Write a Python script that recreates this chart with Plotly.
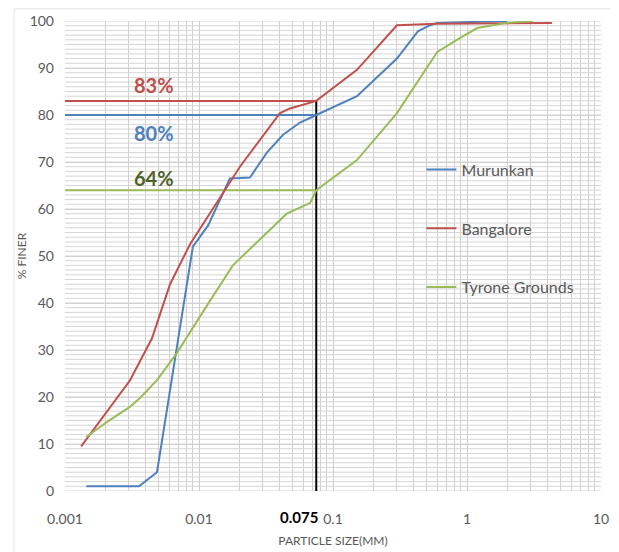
import numpy as np
import plotly.graph_objects as go

# ---------------- data ----------------
murunkan_size = [0.00144, 0.00357, 0.00486, 0.0090, 0.0117, 0.0170, 0.0240, 0.0321, 0.0424, 0.0567, 0.075, 0.151, 0.30, 0.43, 0.53, 0.60, 2.0]
murunkan_pct = [1.0, 1.0, 4.0, 52.0, 56.5, 66.5, 66.7, 72.0, 75.8, 78.4, 80.0, 84.0, 92.0, 97.8, 99.1, 99.6, 100.0]

bangalore_size = [0.00132, 0.00305, 0.00446, 0.00608, 0.00857, 0.0202, 0.0402, 0.0478, 0.075, 0.151, 0.30, 0.60, 4.3]
bangalore_pct = [9.5, 23.5, 32.5, 44.0, 52.5, 69.0, 80.4, 81.4, 83.0, 89.6, 99.1, 99.4, 99.6]

tyrone_size = [0.00144, 0.00206, 0.00305, 0.00363, 0.00486, 0.00685, 0.0121, 0.0179, 0.0451, 0.0674, 0.075, 0.151, 0.30, 0.60, 0.84, 1.19, 1.97, 3.1]
tyrone_pct = [11.5, 14.7, 17.9, 19.8, 23.6, 29.4, 40.5, 48.0, 59.0, 61.3, 64.0, 70.4, 80.4, 93.4, 96.0, 98.5, 99.6, 100.0]

cut_size = 0.075
cut_labels = ["83%", "80%", "64%"]
cut_values = [83, 80, 64]
x_ticks = [0.001, 0.01, 0.1, 1, 10]
x_tick_labels = ["0.001", "0.01", "0.1", "1", "10"]
y_minor_grid = list(range(0, 101, 1))

series_names = ["Murunkan", "Bangalore", "Tyrone Grounds"]
series_colors = ["#4f81bd", "#c0504d", "#9bbb59"]
label_colors = ["#c0504d", "#4f81bd", "#4f6228"]
cut_colors = ["#c0504d", "#4f81bd", "#9bbb59"]
label_shifts = [16, -18, 12]

FONT = "Lato, 'Open Sans', sans-serif"
GREY = "#595959"

fig = go.Figure()

# dense 1% horizontal gridlines (drawn as a background line trace)
gx, gy = [], []
for v in y_minor_grid:
    gx += [x_ticks[0], x_ticks[-1], None]
    gy += [v, v, None]
fig.add_trace(go.Scatter(x=gx, y=gy, mode="lines", line=dict(color="#d6d6d6", width=1),
                         showlegend=False, hoverinfo="skip"))

# reference lines (horizontal at % finer, vertical at 0.075 mm)
for val, col in zip(cut_values, cut_colors):
    fig.add_trace(go.Scatter(x=[x_ticks[0], cut_size], y=[val, val], mode="lines",
                             line=dict(color=col, width=2), showlegend=False, hoverinfo="skip"))
fig.add_trace(go.Scatter(x=[cut_size, cut_size], y=[0, max(cut_values)], mode="lines",
                         line=dict(color="black", width=2), showlegend=False, hoverinfo="skip"))

for name, xs, ys, col in zip(series_names,
                             [murunkan_size, bangalore_size, tyrone_size],
                             [murunkan_pct, bangalore_pct, tyrone_pct],
                             series_colors):
    fig.add_trace(go.Scatter(x=xs, y=ys, mode="lines", name=name, legendgroup=name,
                             line=dict(color=col, width=2)))

annotations = []
for lab, val, col, sh in zip(cut_labels, cut_values, label_colors, label_shifts):
    annotations.append(dict(x=np.log10(0.0046), y=val, xref="x", yref="y", text=f"<b>{lab}</b>",
                            showarrow=False, yshift=sh,
                            font=dict(family=FONT, size=20, color=col)))
annotations.append(dict(x=np.log10(cut_size), y=0, xref="x", yref="paper", text="<b>0.075</b>",
                        showarrow=False, yshift=-37, xanchor="right", xshift=4,
                        font=dict(family=FONT, size=15, color="black")))

# page body has an 8px default margin; figure sized to fill the rest of the window
fig.update_layout(
    width=611, height=544,
    margin=dict(l=57, r=18, t=13, b=61),
    paper_bgcolor="white", plot_bgcolor="white",
    font=dict(family=FONT, color=GREY, size=14),
    showlegend=True,
    legend=dict(x=0.665, y=0.72, xanchor="left", yanchor="top",
                font=dict(family=FONT, size=16, color=GREY),
                tracegroupgap=35, bgcolor="rgba(0,0,0,0)", itemwidth=30),
    annotations=annotations,
    shapes=[dict(type="rect", xref="paper", yref="paper", x0=-0.0951, x1=1.0299, y0=-0.3, y1=1.026,
                 line=dict(color="#e6e6e6", width=1), layer="below")],
    xaxis=dict(type="log", range=[-3, 1], tickvals=x_ticks, ticktext=x_tick_labels,
               automargin=False,
               showgrid=True, gridcolor="#cccccc", gridwidth=1,
               minor=dict(dtick="D1", showgrid=True, gridcolor="#d0d0d0", gridwidth=1),
               showline=False, zeroline=False, ticks="", ticklabelstandoff=18,
               tickfont=dict(size=14, color=GREY),
               title=dict(text="PARTICLE SIZE(MM)", font=dict(size=12, color=GREY), standoff=10)),
    yaxis=dict(range=[0, 100], tickmode="linear", tick0=0, dtick=10, automargin=False,
               showgrid=True, gridcolor="#cccccc", gridwidth=1,
               showline=False, zeroline=False, ticks="", ticklabelstandoff=10,
               tickfont=dict(size=14, color=GREY),
               title=dict(text="% FINER", font=dict(size=12, color=GREY), standoff=0)),
)

fig.write_html("out.html")
